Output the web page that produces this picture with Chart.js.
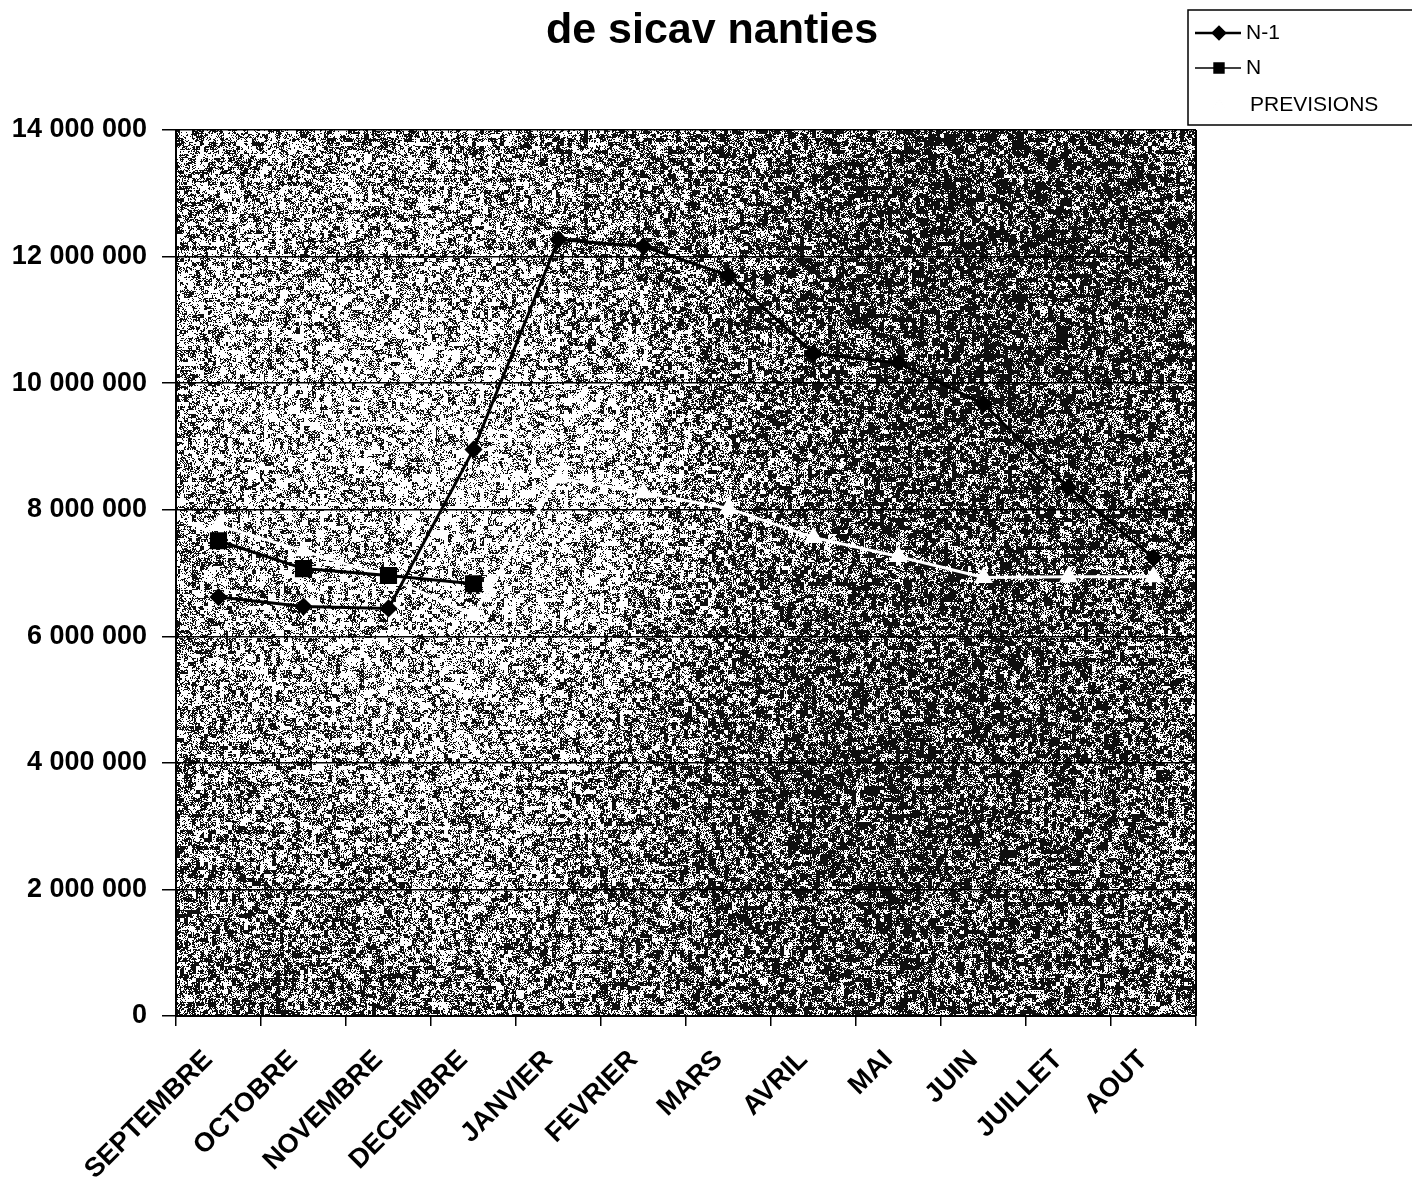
<!DOCTYPE html>
<html>
<head>
<meta charset="utf-8">
<title>de sicav nanties</title>
<script src="https://cdn.jsdelivr.net/npm/chart.js@4.4.1/dist/chart.umd.min.js"></script>
<style>
    html, body { margin: 0; padding: 0; background: #ffffff; }
    #wrap { width: 1412px; height: 1182px; }
</style>
</head>
<body>
<div id="wrap"><canvas id="sicavChart" width="1412" height="1182"></canvas></div>
<script>
// Chart data
const chartTitle = 'de sicav nanties';
const months = ['SEPTEMBRE', 'OCTOBRE', 'NOVEMBRE', 'DECEMBRE', 'JANVIER', 'FEVRIER',
                'MARS', 'AVRIL', 'MAI', 'JUIN', 'JUILLET', 'AOUT'];
const valuesN1 = [6620000, 6470000, 6440000, 8950000, 12270000, 12160000,
                  11700000, 10470000, 10320000, 9670000, 8350000, 7240000];
const valuesN = [7510000, 7070000, 6960000, 6830000, null, null,
                 null, null, null, null, null, null];
const valuesPrev = [7750000, 7350000, 6930000, 6330000, 8500000, 8270000,
                    8020000, 7560000, 7260000, 6930000, 6940000, 6940000];
const yTicks = [0, 2000000, 4000000, 6000000, 8000000, 10000000, 12000000, 14000000];

document.addEventListener('DOMContentLoaded', function() {
    Chart.defaults.font.family = 'Liberation Sans, Arial, sans-serif';
    Chart.defaults.color = '#000000';

    // small seeded random, only used for the scanned-paper speckle texture
    function mulberry32(a) {
        return function() {
            a |= 0; a = a + 0x6D2B79F5 | 0;
            let t = Math.imul(a ^ a >>> 15, 1 | a);
            t = t + Math.imul(t ^ t >>> 7, 61 | t) ^ t;
            return ((t ^ t >>> 14) >>> 0) / 4294967296;
        };
    }

    let noiseCache = null;
    const speckle = {
        id: 'speckle',
        beforeDraw(chart) {
            const a = chart.chartArea;
            const ctx = chart.ctx;
            const w = Math.round(a.right - a.left), h = Math.round(a.bottom - a.top);
            if (!noiseCache) {
                const rnd = mulberry32(1234);
                const img = ctx.createImageData(w, h);
                const cell = 4;
                const cw = Math.ceil(w / cell) + 1, ch = Math.ceil(h / cell) + 1;
                const cells = new Float32Array(cw * ch);
                for (let i = 0; i < cells.length; i++) cells[i] = rnd();
                const blobs = [
                    [1000, 230, 200, 0.14], [900, 800, 220, 0.13], [320, 380, 180, -0.08],
                    [450, 770, 180, -0.09], [560, 480, 120, -0.10], [300, 960, 150, 0.07]
                ];
                for (let y = 0; y < h; y++) {
                    for (let x = 0; x < w; x++) {
                        const gx = x + a.left, gy = y + a.top;
                        let d = 0.5;
                        for (const b of blobs) {
                            const dx = gx - b[0], dy = gy - b[1];
                            d += b[3] * Math.exp(-(dx * dx + dy * dy) / (2 * b[2] * b[2]));
                        }
                        const r = 0.5 * rnd() + 0.5 * cells[Math.floor(y / cell) * cw + Math.floor(x / cell)];
                        const v = r < d ? 15 : 255;
                        const k = (y * w + x) * 4;
                        img.data[k] = v; img.data[k + 1] = v; img.data[k + 2] = v; img.data[k + 3] = 255;
                    }
                }
                noiseCache = img;
            }
            ctx.putImageData(noiseCache, Math.round(a.left), Math.round(a.top));

            // title, centred over the page rather than the plot
            ctx.save();
            ctx.fillStyle = '#000000';
            ctx.font = 'bold 43px Liberation Sans, Arial, sans-serif';
            ctx.textAlign = 'center';
            ctx.textBaseline = 'alphabetic';
            ctx.fillText(chartTitle, 712, 43);
            ctx.restore();
        },
        beforeDatasetsDraw(chart) {
            // right border of the plot area
            const a = chart.chartArea;
            const ctx = chart.ctx;
            ctx.save();
            ctx.strokeStyle = '#000000';
            ctx.lineWidth = 2;
            ctx.beginPath();
            ctx.moveTo(a.right, a.top);
            ctx.lineTo(a.right, a.bottom);
            ctx.stroke();
            ctx.restore();
        }
    };

    // Legend box in the top-right corner
    const boxLegend = {
        id: 'boxLegend',
        afterDraw(chart) {
            const ctx = chart.ctx;
            ctx.save();
            ctx.strokeStyle = '#000000';
            ctx.lineWidth = 1.5;
            ctx.strokeRect(1188, 10, 240, 115);
            const rows = [33, 68, 105];
            chart.data.datasets.forEach(function(ds, i) {
                const y = rows[i];
                ctx.strokeStyle = ds.borderColor;
                ctx.lineWidth = i === 0 ? 2.5 : 1.5;
                ctx.beginPath();
                ctx.moveTo(1195, y);
                ctx.lineTo(1241, y);
                ctx.stroke();
                Chart.helpers.drawPoint(ctx, {
                    pointStyle: ds.pointStyle,
                    radius: ds.pointStyle === 'rect' ? 7 : 6,
                    borderWidth: 1
                }, 1219, y);
                ctx.fillStyle = ds.pointBackgroundColor;
                ctx.fill();
                ctx.fillStyle = '#000000';
                ctx.font = '21px Liberation Sans, Arial, sans-serif';
                ctx.textBaseline = 'middle';
                ctx.fillText(ds.label, i === 2 ? 1250 : 1246, y);
            });
            ctx.restore();
        }
    };

    const ctx = document.getElementById('sicavChart').getContext('2d');
    const sicavChart = new Chart(ctx, {
        type: 'line',
        data: {
            labels: months,
            datasets: [{
                label: 'N-1',
                data: valuesN1,
                borderColor: '#000000',
                borderWidth: 3,
                pointStyle: 'rectRot',
                pointRadius: 7,
                pointBackgroundColor: '#000000',
                pointBorderColor: '#000000',
                tension: 0
            }, {
                label: 'N',
                data: valuesN,
                borderColor: '#000000',
                borderWidth: 3,
                pointStyle: 'rect',
                pointRadius: 10,
                pointBackgroundColor: '#000000',
                pointBorderColor: '#000000',
                spanGaps: false,
                tension: 0
            }, {
                label: 'PREVISIONS',
                data: valuesPrev,
                borderColor: '#ffffff',
                borderWidth: 3,
                pointStyle: 'triangle',
                pointRadius: 8,
                pointBackgroundColor: '#ffffff',
                pointBorderColor: '#ffffff',
                tension: 0
            }]
        },
        options: {
            responsive: false,
            animation: false,
            layout: { padding: { left: 0, right: 216, top: 130, bottom: 0 } },
            plugins: {
                legend: { display: false },
                tooltip: { enabled: false },
                title: { display: false }
            },
            scales: {
                x: {
                    offset: true,
                    grid: {
                        offset: true,
                        drawOnChartArea: false,
                        drawTicks: true,
                        tickLength: 10,
                        color: '#000000',
                        lineWidth: 1.5
                    },
                    border: { color: '#000000', width: 2 },
                    ticks: {
                        autoSkip: false,
                        maxRotation: 45,
                        minRotation: 45,
                        padding: 18,
                        labelOffset: -10,
                        color: '#000000',
                        font: { size: 27, weight: 'bold' }
                    },
                    afterFit(scale) { scale.height = 166; }
                },
                y: {
                    min: 0,
                    max: 14000000,
                    afterBuildTicks(scale) {
                        scale.ticks = yTicks.map(function(v) { return { value: v }; });
                    },
                    grid: {
                        color: '#000000',
                        lineWidth: 1.5,
                        tickLength: 14
                    },
                    border: { color: '#000000', width: 2 },
                    ticks: {
                        padding: 15,
                        color: '#000000',
                        font: { size: 27, weight: 'bold' },
                        callback: function(v) {
                            return String(v).replace(/\B(?=(\d{3})+(?!\d))/g, ' ');
                        }
                    },
                    afterFit(scale) { scale.width = 176; }
                }
            }
        },
        plugins: [speckle, boxLegend]
    });
});
</script>
</body>
</html>
